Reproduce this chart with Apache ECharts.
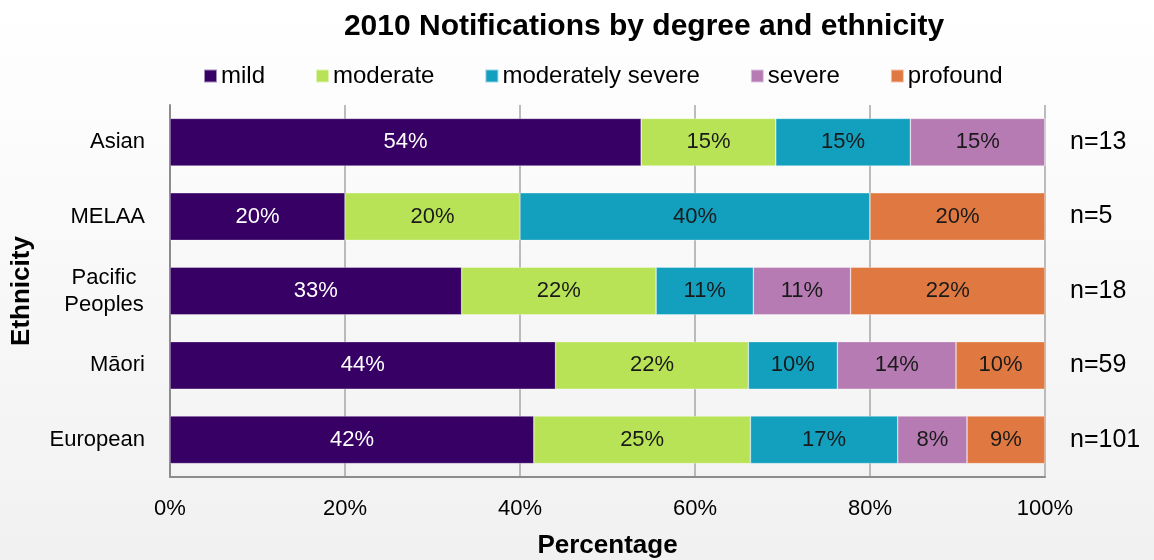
<!DOCTYPE html>
<html>
<head>
<meta charset="utf-8">
<title>2010 Notifications by degree and ethnicity</title>
<script src="https://cdn.jsdelivr.net/npm/echarts@6/dist/echarts.min.js"></script>
<style>
  html, body { margin: 0; padding: 0; }
  #chart { width: 1154px; height: 560px; }
</style>
</head>
<body>
<div id="chart"></div>
<script>
// Ethnic groups, listed bottom to top
const ethnicities = ['European', 'Māori', 'Pacific\nPeoples', 'MELAA', 'Asian'];

// Notification counts per degree of hearing loss
const mild             = [42, 26, 6, 1, 7];
const moderate         = [25, 13, 4, 1, 2];
const moderatelySevere = [17, 6, 2, 2, 2];
const severe           = [8, 8, 2, 0, 2];
const profound         = [9, 6, 4, 1, 0];

const degreeNames = ['mild', 'moderate', 'moderately severe', 'severe', 'profound'];
const degreeCounts = [mild, moderate, moderatelySevere, severe, profound];
const degreeColors = ['#370065', '#b8e356', '#12a0be', '#b67bb3', '#e07941'];
const xTicks = [0, 20, 40, 60, 80, 100];

// Group totals (n) and shares in percent
const totals = ethnicities.map((_, i) => degreeCounts.reduce((s, arr) => s + arr[i], 0));
const shares = degreeCounts.map(arr => arr.map((c, i) => c / totals[i] * 100));

const FONT = '"Liberation Sans", Arial, sans-serif';

const chart = echarts.init(document.getElementById('chart'));

const series = degreeNames.map((name, k) => ({
  name: name,
  type: 'bar',
  stack: 'total',
  barWidth: '64%',
  data: shares[k],
  itemStyle: { color: degreeColors[k], borderColor: 'rgba(255,255,255,0.55)', borderWidth: 0.6 },
  label: {
    show: true,
    position: 'inside',
    fontFamily: FONT,
    fontSize: 22,
    color: k === 0 ? '#ffffff' : '#1a1a1a',
    formatter: p => p.value > 0 ? Math.round(p.value) + '%' : ''
  },
  emphasis: { disabled: true }
}));

chart.setOption({
  backgroundColor: {
    type: 'linear', x: 0, y: 0, x2: 0, y2: 1,
    colorStops: [{ offset: 0, color: '#ffffff' }, { offset: 1, color: '#f1f1f1' }]
  },
  animation: false,
  textStyle: { fontFamily: FONT },
  title: {
    text: '2010 Notifications by degree and ethnicity',
    left: 639,
    textAlign: 'center',
    top: 7,
    textStyle: { fontFamily: FONT, fontSize: 30, fontWeight: 'bold', color: '#000' }
  },
  legend: {
    data: degreeNames,
    left: 198,
    top: 59,
    itemWidth: 13,
    itemHeight: 13,
    itemGap: 50,
    icon: 'rect',
    textStyle: { fontFamily: FONT, fontSize: 24, color: '#000', padding: [0, 0, 0, -1] }
  },
  grid: { left: 170, right: 109, top: 105, bottom: 83, containLabel: false, outerBoundsMode: 'none' },
  xAxis: {
    type: 'value',
    min: xTicks[0],
    max: xTicks[xTicks.length - 1],
    interval: 20,
    name: 'Percentage',
    nameLocation: 'middle',
    nameGap: 56,
    nameTextStyle: { fontFamily: FONT, fontSize: 26, fontWeight: 'bold', color: '#000' },
    axisLine: { show: true, lineStyle: { color: '#8c8c8c', width: 2 } },
    axisTick: { show: false },
    axisLabel: { fontFamily: FONT, fontSize: 22, color: '#000', margin: 21, formatter: v => v + '%' },
    splitLine: { show: true, lineStyle: { color: '#a6a6a6', width: 1.5 } }
  },
  yAxis: [
    {
      type: 'category',
      data: ethnicities,
      name: 'Ethnicity',
      nameLocation: 'middle',
      nameRotate: 90,
      nameGap: 135,
      nameTextStyle: { fontFamily: FONT, fontSize: 26, fontWeight: 'bold', color: '#000' },
      axisLine: { show: true, lineStyle: { color: '#8c8c8c', width: 2 } },
      axisTick: { show: false },
      axisLabel: {
        fontFamily: FONT, fontSize: 22, color: '#000', margin: 25, lineHeight: 27,
        // two-line names are centred line by line
        formatter: v => v.indexOf('\n') >= 0
          ? v.split('\n').map(s => '{c|' + s + '}').join('\n')
          : v,
        rich: { c: { width: 82, align: 'center', fontFamily: FONT, fontSize: 22, lineHeight: 27, color: '#000' } }
      }
    },
    {
      type: 'category',
      data: ethnicities,
      position: 'right',
      axisLine: { show: false },
      axisTick: { show: false },
      axisLabel: {
        fontFamily: FONT, fontSize: 25, color: '#000', margin: 25,
        formatter: (v, i) => 'n=' + totals[i]
      }
    }
  ],
  series: series
});
</script>
</body>
</html>
